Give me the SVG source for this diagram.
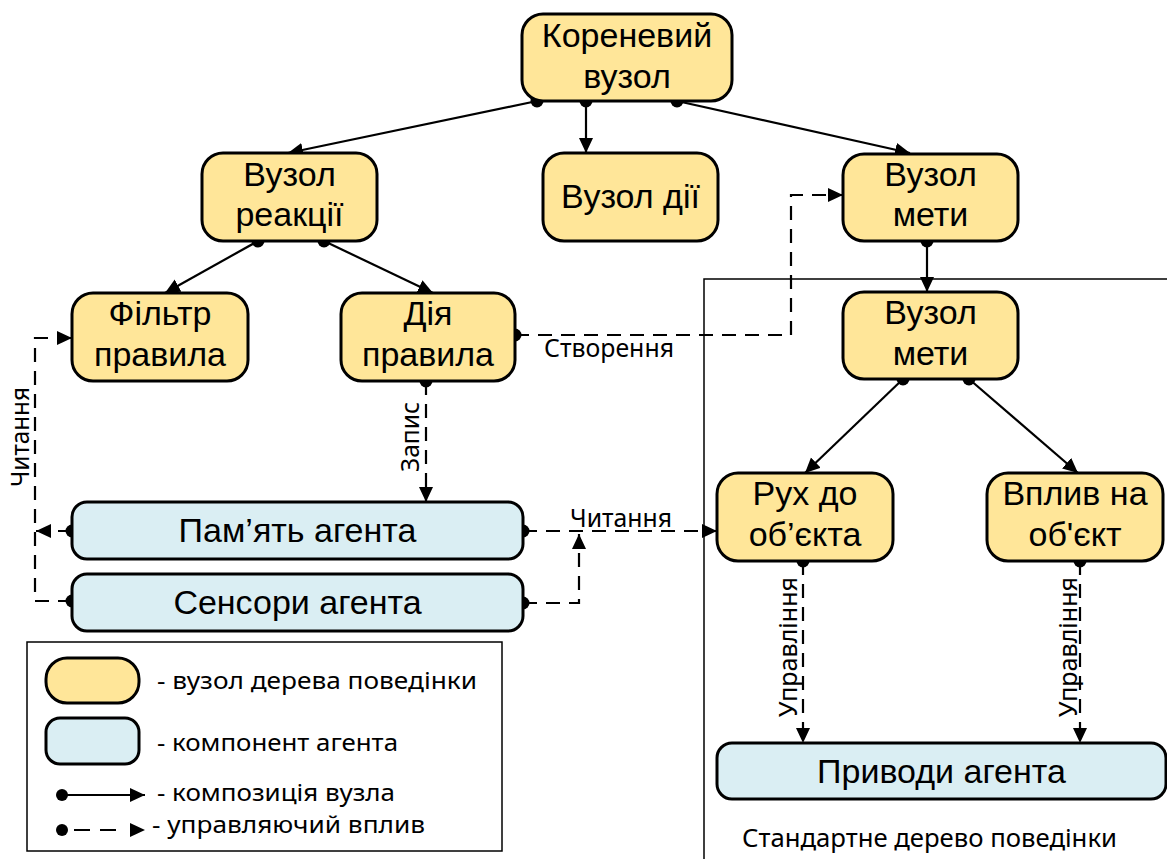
<svg xmlns="http://www.w3.org/2000/svg" width="1167" height="859" viewBox="0 0 1167 859">
<defs>
<marker id="arr" markerUnits="userSpaceOnUse" markerWidth="16" markerHeight="16" refX="15" refY="7" orient="auto">
<path d="M0,0 L15,7 L0,14 z" fill="#000"/>
</marker>
<style>
.bt{fill:#FFE699;stroke:#000;stroke-width:3}
.ag{fill:#DAEEF3;stroke:#000;stroke-width:3}
.nt{font-family:"Liberation Sans",Arial,sans-serif;font-size:34px;fill:#000;text-anchor:middle}
.lb{font-family:"Noto Sans","Open Sans",sans-serif;font-size:26px;fill:#000}
.lg{font-family:"Noto Sans","Open Sans",sans-serif;font-size:24px;fill:#000}
.sol{fill:none;stroke:#000;stroke-width:2.2;marker-end:url(#arr)}
.dsh{fill:none;stroke:#000;stroke-width:2.2;stroke-dasharray:14 9;marker-end:url(#arr)}
.dot{fill:#000}
</style>
</defs>
<rect width="1167" height="859" fill="#fff"/>

<g id="frame">
<path d="M704,859 V279 H1167" fill="none" stroke="#000" stroke-width="1.5"/>
<text class="lb" x="742" y="847" textLength="375" lengthAdjust="spacingAndGlyphs">Стандартне дерево поведінки</text>
</g>

<g id="connectors">
<path class="sol" d="M537,101 L288,153"/>
<path class="sol" d="M586,101 V153"/>
<path class="sol" d="M677,101 L910,153"/>
<path class="sol" d="M258,241 L165,293"/>
<path class="sol" d="M324,241 L433,293"/>
<path class="sol" d="M927,241 V292"/>
<path class="sol" d="M903,379 L805,473"/>
<path class="sol" d="M969,379 L1078,473"/>
<path class="dsh" d="M515,335 H791 V195 H843"/>
<path class="dsh" d="M426,381 V502"/>
<path class="dsh" d="M72,601 H35 V338 H72"/>
<path class="dsh" d="M72,531 H36"/>
<path class="dsh" d="M523,531 H717"/>
<path class="dsh" d="M523,603 H579 V534"/>
<path class="dsh" d="M803,561 V743"/>
<path class="dsh" d="M1080,561 V743"/>
<circle class="dot" cx="537" cy="101" r="6.5"/>
<circle class="dot" cx="586" cy="101" r="6.5"/>
<circle class="dot" cx="677" cy="101" r="6.5"/>
<circle class="dot" cx="258" cy="241" r="6.5"/>
<circle class="dot" cx="324" cy="241" r="6.5"/>
<circle class="dot" cx="927" cy="241" r="6.5"/>
<circle class="dot" cx="903" cy="379" r="6.5"/>
<circle class="dot" cx="969" cy="379" r="6.5"/>
<circle class="dot" cx="515" cy="335" r="6.5"/>
<circle class="dot" cx="426" cy="381" r="6.5"/>
<circle class="dot" cx="72" cy="531" r="6.5"/>
<circle class="dot" cx="72" cy="601" r="6.5"/>
<circle class="dot" cx="523" cy="531" r="6.5"/>
<circle class="dot" cx="523" cy="603" r="6.5"/>
<circle class="dot" cx="803" cy="561" r="6.5"/>
<circle class="dot" cx="1080" cy="561" r="6.5"/>
<text class="lb" x="544" y="357" textLength="130" lengthAdjust="spacingAndGlyphs">Створення</text>
<text class="lb" x="570" y="527" textLength="102" lengthAdjust="spacingAndGlyphs">Читання</text>
<text class="lb" transform="translate(29,487) rotate(-90)" textLength="100" lengthAdjust="spacingAndGlyphs">Читання</text>
<text class="lb" transform="translate(419,472) rotate(-90)" textLength="70" lengthAdjust="spacingAndGlyphs">Запис</text>
<text class="lb" transform="translate(797,717) rotate(-90)" textLength="140" lengthAdjust="spacingAndGlyphs">Управління</text>
<text class="lb" transform="translate(1077,717) rotate(-90)" textLength="140" lengthAdjust="spacingAndGlyphs">Управління</text>
</g>

<g id="root">
<rect class="bt" x="522" y="14" width="210" height="87" rx="21"/>
<text class="nt" x="627" y="47">Кореневий</text>
<text class="nt" x="627" y="88">вузол</text>
</g>
<g id="reaction">
<rect class="bt" x="202" y="153" width="175" height="88" rx="21"/>
<text class="nt" x="289.5" y="186">Вузол</text>
<text class="nt" x="289.5" y="226">реакції</text>
</g>
<g id="action">
<rect class="bt" x="543" y="153" width="175" height="88" rx="21"/>
<text class="nt" x="630.5" y="208">Вузол дії</text>
</g>
<g id="goal">
<rect class="bt" x="843" y="154" width="175" height="87" rx="21"/>
<text class="nt" x="930.5" y="186">Вузол</text>
<text class="nt" x="930.5" y="226">мети</text>
</g>
<g id="filter">
<rect class="bt" x="72" y="293" width="176" height="88" rx="21"/>
<text class="nt" x="160" y="325">Фільтр</text>
<text class="nt" x="160" y="366">правила</text>
</g>
<g id="ruleaction">
<rect class="bt" x="341" y="293" width="174" height="88" rx="21"/>
<text class="nt" x="428" y="325">Дія</text>
<text class="nt" x="428" y="366">правила</text>
</g>
<g id="goal2">
<rect class="bt" x="843" y="292" width="175" height="87" rx="21"/>
<text class="nt" x="930.5" y="324">Вузол</text>
<text class="nt" x="930.5" y="365">мети</text>
</g>
<g id="move">
<rect class="bt" x="717" y="473" width="176" height="88" rx="21"/>
<text class="nt" x="805" y="505">Рух до</text>
<text class="nt" x="805" y="546">об’єкта</text>
</g>
<g id="influence">
<rect class="bt" x="987" y="473" width="176" height="88" rx="21"/>
<text class="nt" x="1075" y="505">Вплив на</text>
<text class="nt" x="1075" y="546">об'єкт</text>
</g>
<g id="memory">
<rect class="ag" x="72" y="502" width="451" height="57" rx="15"/>
<text class="nt" x="297.5" y="542">Пам’ять агента</text>
</g>
<g id="sensors">
<rect class="ag" x="72" y="574" width="451" height="57" rx="15"/>
<text class="nt" x="297.5" y="614">Сенсори агента</text>
</g>
<g id="actuators">
<rect class="ag" x="717" y="743" width="449" height="56" rx="15"/>
<text class="nt" x="941.5" y="783">Приводи агента</text>
</g>

<g id="legend">
<rect x="27" y="642" width="475" height="209" fill="#fff" stroke="#000" stroke-width="1.5"/>
<rect class="bt" x="46" y="658" width="93" height="45" rx="21"/>
<rect class="ag" x="46" y="718" width="93" height="46" rx="14"/>
<path class="sol" d="M62,795 H145"/>
<circle class="dot" cx="62" cy="795" r="6"/>
<path class="dsh" d="M62,830 H145" style="stroke-dasharray:0 12 16 10 16 30"/>
<circle class="dot" cx="62" cy="830" r="6"/>
<text class="lg" x="157" y="689" textLength="320" lengthAdjust="spacingAndGlyphs">- вузол дерева поведінки</text>
<text class="lg" x="157" y="751" textLength="241" lengthAdjust="spacingAndGlyphs">- компонент агента</text>
<text class="lg" x="157" y="801" textLength="238" lengthAdjust="spacingAndGlyphs">- композиція вузла</text>
<text class="lg" x="152" y="833" textLength="273" lengthAdjust="spacingAndGlyphs">- управляючий вплив</text>
</g>
</svg>
